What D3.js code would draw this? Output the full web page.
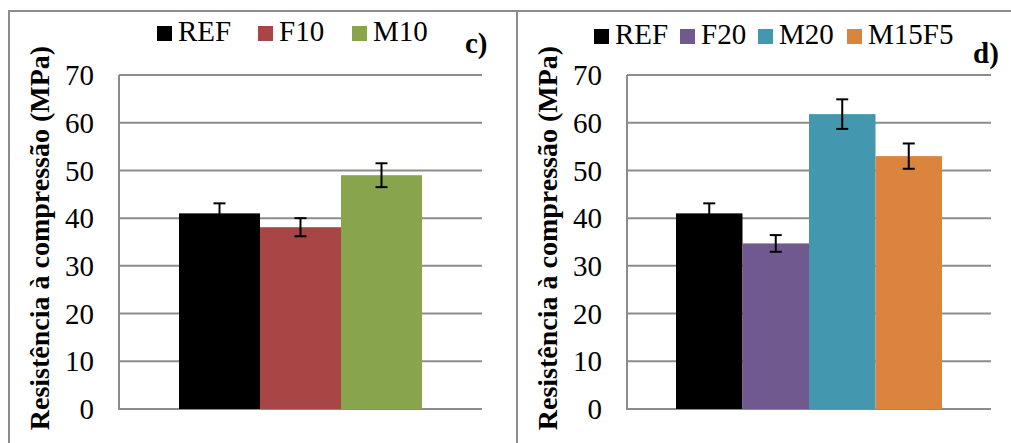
<!DOCTYPE html>
<html>
<head>
<meta charset="utf-8">
<script src="https://cdn.jsdelivr.net/npm/d3@7"></script>
<style>
  html, body { margin: 0; padding: 0; background: #fff; }
  svg { display: block; font-family: "Liberation Serif", "Times New Roman", serif; }
</style>
</head>
<body>
<div id="chart"></div>
<script>
// dados
const yTicks = [0, 10, 20, 30, 40, 50, 60, 70];
const yLabel = "Resistência à compressão (MPa)";

const seriesC = ["REF", "F10", "M10"];
const valuesC = [41.0, 38.1, 49.0];
const errorsC = [2.1, 1.9, 2.5];
const colorsC = ["#000000", "#a84645", "#88a44d"];

const seriesD = ["REF", "F20", "M20", "M15F5"];
const valuesD = [41.0, 34.7, 61.8, 53.0];
const errorsD = [2.1, 1.75, 3.1, 2.65];
const colorsD = ["#000000", "#70598f", "#4398b0", "#db843d"];

const W = 1011, H = 443;
const gray = "#8c8c8c";

const svg = d3.select("#chart").append("svg")
    .attr("width", W)
    .attr("height", H);

svg.append("rect").attr("width", W).attr("height", H).attr("fill", "#fff");

// bordas dos painéis
svg.append("path")
    .attr("d", `M9,${H + 5} V11 H${W + 5} M517,11 V${H + 5}`)
    .attr("fill", "none")
    .attr("stroke", gray)
    .attr("stroke-width", 2);

function drawPanel(opt) {
    const g = svg.append("g");

    const y = d3.scaleLinear()
        .domain([0, 70])
        .range([409, 75]);

    const x = d3.scaleBand()
        .domain(opt.series)
        .range([opt.barsLeft, opt.barsRight])
        .padding(0);

    // grade
    g.append("g")
        .selectAll("line")
        .data(yTicks)
        .enter()
        .append("line")
        .attr("x1", opt.left)
        .attr("x2", opt.right)
        .attr("y1", d => y(d))
        .attr("y2", d => y(d))
        .attr("stroke", gray)
        .attr("stroke-width", 2);

    // eixo y
    g.append("line")
        .attr("x1", opt.left).attr("x2", opt.left)
        .attr("y1", y(70)).attr("y2", y(0) + 1)
        .attr("stroke", gray)
        .attr("stroke-width", 2);

    g.append("g")
        .selectAll("text")
        .data(yTicks)
        .enter()
        .append("text")
        .attr("x", opt.left - 25)
        .attr("y", d => y(d))
        .attr("dy", "0.35em")
        .attr("text-anchor", "end")
        .attr("font-size", 29)
        .attr("fill", "#000")
        .text(d => d);

    // barras
    g.append("g")
        .selectAll("rect")
        .data(opt.values)
        .enter()
        .append("rect")
        .attr("x", (d, i) => x(opt.series[i]))
        .attr("y", d => y(d))
        .attr("width", x.bandwidth())
        .attr("height", d => y(0) - y(d))
        .attr("fill", (d, i) => opt.colors[i]);

    // barras de erro
    const err = g.append("g")
        .attr("stroke", "#000")
        .attr("stroke-width", 2);
    opt.values.forEach((v, i) => {
        const cx = x(opt.series[i]) + x.bandwidth() / 2;
        const e = opt.errors[i];
        err.append("line")
            .attr("x1", cx).attr("x2", cx)
            .attr("y1", y(v + e)).attr("y2", y(v - e));
        err.append("line")
            .attr("x1", cx - 6).attr("x2", cx + 6)
            .attr("y1", y(v + e)).attr("y2", y(v + e));
        err.append("line")
            .attr("x1", cx - 6).attr("x2", cx + 6)
            .attr("y1", y(v - e)).attr("y2", y(v - e));
    });

    // legenda
    const leg = g.append("g");
    opt.series.forEach((s, i) => {
        leg.append("rect")
            .attr("x", opt.legendX[i])
            .attr("y", opt.legendY - 15)
            .attr("width", 15)
            .attr("height", 15)
            .attr("fill", opt.colors[i]);
        leg.append("text")
            .attr("x", opt.legendX[i] + 21)
            .attr("y", opt.legendY)
            .attr("font-size", 29)
            .attr("fill", "#000")
            .text(s);
    });

    // rótulo do painel
    g.append("text")
        .attr("x", opt.tagX)
        .attr("y", opt.tagY)
        .attr("font-size", 29)
        .attr("font-weight", "bold")
        .text(opt.tag);

    // título do eixo y
    g.append("text")
        .attr("transform", `translate(${opt.labelX},238) rotate(-90)`)
        .attr("text-anchor", "middle")
        .attr("font-size", 28)
        .attr("font-weight", "bold")
        .attr("fill", "#000")
        .text(yLabel);
}

drawPanel({
    series: seriesC, values: valuesC, errors: errorsC, colors: colorsC,
    left: 119, right: 482, barsLeft: 179, barsRight: 422,
    legendX: [157, 258, 352], legendY: 41,
    tag: "c)", tagX: 465, tagY: 53,
    labelX: 49
});

drawPanel({
    series: seriesD, values: valuesD, errors: errorsD, colors: colorsD,
    left: 627, right: 991, barsLeft: 676, barsRight: 942,
    legendX: [594, 680, 758, 847], legendY: 44,
    tag: "d)", tagX: 973, tagY: 63,
    labelX: 557
});
</script>
</body>
</html>
